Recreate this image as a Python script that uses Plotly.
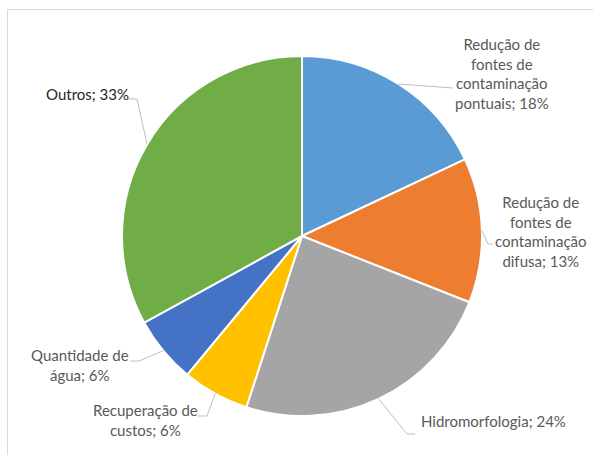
import math
import plotly.graph_objects as go

# Share of measures by category (percent)
labels = [
    "Redução de fontes de contaminação pontuais",
    "Redução de fontes de contaminação difusa",
    "Hidromorfologia",
    "Recuperação de custos",
    "Quantidade de água",
    "Outros",
]
values = [18, 13, 24, 6, 6, 33]
label_texts = [
    "Redução de<br>fontes de<br>contaminação<br>pontuais; 18%",
    "Redução de<br>fontes de<br>contaminação<br>difusa; 13%",
    "Hidromorfologia; 24%",
    "Recuperação de<br>custos; 6%",
    "Quantidade de<br>água; 6%",
    "Outros; 33%",
]
colors = ["#5B9BD5", "#ED7D31", "#A5A5A5", "#FFC000", "#4472C4", "#70AD47"]

W, H = 593, 455
CX, CY, R = 302, 236, 180  # pie centre and radius in pixels

# label layout (pixel centre of each text block) and leader-line elbows
label_pos = [(502, 74), (541, 231), (493, 421), (145, 420), (80, 365), (87, 94)]
label_colors = ["#595959"] * 5 + ["#262626"]
elbows = [
    [(453, 88)],
    [(488, 244), (493, 244)],
    [(407, 434), (415, 434)],
    [(207, 416), (198, 416)],
    [(139, 361), (130, 361)],
    [(137, 99), (128, 99)],
]


def px(x):
    return x / W


def py(y):
    return 1 - y / H


fig = go.Figure(
    go.Pie(
        labels=labels,
        values=values,
        sort=False,
        direction="clockwise",
        rotation=0,
        marker=dict(colors=colors, line=dict(color="white", width=2)),
        textinfo="none",
        hoverinfo="label+percent",
        showlegend=False,
        domain=dict(x=[px(CX - R), px(CX + R)], y=[py(CY + R), py(CY - R)]),
    )
)

shapes = []
# chart-area border (top and left edges)
shapes.append(dict(type="line", xref="paper", yref="paper",
                   x0=px(7.5), y0=py(9.5), x1=1.0, y1=py(9.5),
                   line=dict(color="#D9D9D9", width=1)))
shapes.append(dict(type="line", xref="paper", yref="paper",
                   x0=px(7.5), y0=py(9.5), x1=px(7.5), y1=0.0,
                   line=dict(color="#D9D9D9", width=1)))

# leader lines from the middle of each slice's arc to its label
total = sum(values)
cum = 0
for v, pts in zip(values, elbows):
    mid = (cum + v / 2) / total * 2 * math.pi
    cum += v
    sx = CX + R * math.sin(mid)
    sy = CY - R * math.cos(mid)
    path_pts = [(sx, sy)] + pts
    d = "M " + " L ".join(f"{px(x):.5f},{py(y):.5f}" for x, y in path_pts)
    shapes.append(dict(type="path", xref="paper", yref="paper", path=d,
                       line=dict(color="#BFBFBF", width=1)))

annotations = []
for txt, (x, y), c in zip(label_texts, label_pos, label_colors):
    annotations.append(dict(
        text=txt, x=px(x), y=py(y), xref="paper", yref="paper",
        xanchor="center", yanchor="middle", align="center", showarrow=False,
        font=dict(family="Lato, Liberation Sans, sans-serif", size=15, color=c),
    ))

fig.update_layout(
    width=W, height=H,
    margin=dict(l=0, r=0, t=0, b=0),
    paper_bgcolor="white",
    plot_bgcolor="white",
    shapes=shapes,
    annotations=annotations,
)

fig.write_html("out.html")
